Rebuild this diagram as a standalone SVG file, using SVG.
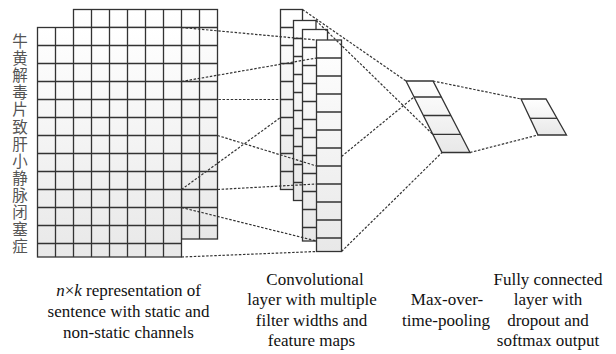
<svg xmlns="http://www.w3.org/2000/svg" width="616" height="354" viewBox="0 0 616 354">
<defs>
<linearGradient id="g" x1="0" y1="0" x2="0" y2="1">
<stop offset="0" stop-color="#ffffff"/>
<stop offset="1" stop-color="#e8e8e8"/>
</linearGradient>
</defs>
<style>
.box{fill:url(#g);stroke:#333;stroke-width:1.3}
.ln{fill:none;stroke:#333;stroke-width:1.3}
.dash{fill:none;stroke:#333;stroke-width:1.2;stroke-dasharray:2.5 1.6}
.lbl{font-size:17px;fill:#111;text-anchor:middle}
.cjk{font-size:15.5px;fill:#555;text-anchor:middle;dominant-baseline:central}
</style>

<g id="sentence-words">
<text class="cjk" font-family="Noto Sans CJK SC, Noto Sans CJK JP, sans-serif"><tspan x="20" y="40">牛</tspan><tspan x="20" y="57.1">黄</tspan><tspan x="20" y="74.2">解</tspan><tspan x="20" y="91.3">毒</tspan><tspan x="20" y="108.4">片</tspan><tspan x="20" y="125.5">致</tspan><tspan x="20" y="142.6">肝</tspan><tspan x="20" y="159.7">小</tspan><tspan x="20" y="176.8">静</tspan><tspan x="20" y="193.9">脉</tspan><tspan x="20" y="211">闭</tspan><tspan x="20" y="228.1">塞</tspan><tspan x="20" y="245.2">症</tspan></text>
</g>

<g id="grid-back">
<rect class="box" x="73.5" y="9.5" width="144" height="229.5"/>
<path class="ln" d="M91.5 9.5V239M109.5 9.5V239M127.5 9.5V239M145.5 9.5V239M163.5 9.5V239M181.5 9.5V239M199.5 9.5V239M73.5 27.5H217.5M73.5 45.5H217.5M73.5 63.5H217.5M73.5 81.5H217.5M73.5 99.5H217.5M73.5 117.5H217.5M73.5 135.5H217.5M73.5 153.5H217.5M73.5 171.5H217.5M73.5 189.5H217.5M73.5 207.5H217.5M73.5 225.5H217.5"/>
</g>

<g id="grid-front">
<rect class="box" x="37.5" y="27.5" width="144" height="229.5"/>
<path class="ln" d="M55.5 27.5V257M73.5 27.5V257M91.5 27.5V257M109.5 27.5V257M127.5 27.5V257M145.5 27.5V257M163.5 27.5V257M37.5 45.5H181.5M37.5 63.5H181.5M37.5 81.5H181.5M37.5 99.5H181.5M37.5 117.5H181.5M37.5 135.5H181.5M37.5 153.5H181.5M37.5 171.5H181.5M37.5 189.5H181.5M37.5 207.5H181.5M37.5 225.5H181.5M37.5 243.5H181.5"/>
</g>

<g id="feature-map-1">
<rect class="box" x="280.5" y="9.5" width="22" height="180"/>
<path class="ln" d="M280.5 27.5H302.5M280.5 45.5H302.5M280.5 63.5H302.5M280.5 81.5H302.5M280.5 99.5H302.5M280.5 117.5H302.5M280.5 135.5H302.5M280.5 153.5H302.5M280.5 171.5H302.5"/>
</g>
<g id="feature-map-2">
<rect class="box" x="293.5" y="20.5" width="22.5" height="180"/>
<path class="ln" d="M293.5 38.5H316M293.5 56.5H316M293.5 74.5H316M293.5 92.5H316M293.5 110.5H316M293.5 128.5H316M293.5 146.5H316M293.5 164.5H316M293.5 182.5H316"/>
</g>
<g id="feature-map-3">
<rect class="box" x="302.5" y="29.5" width="25" height="211.5"/>
<path class="ln" d="M302.5 47.5H327.5M302.5 65.5H327.5M302.5 83.5H327.5M302.5 101.5H327.5M302.5 119.5H327.5M302.5 137.5H327.5M302.5 155.5H327.5M302.5 173.5H327.5M302.5 191.5H327.5M302.5 209.5H327.5M302.5 227.5H327.5"/>
</g>
<g id="feature-map-4">
<rect class="box" x="316.5" y="40" width="25" height="211.5"/>
<path class="ln" d="M316.5 58H341.5M316.5 76H341.5M316.5 94H341.5M316.5 112H341.5M316.5 130H341.5M316.5 148H341.5M316.5 166H341.5M316.5 184H341.5M316.5 202H341.5M316.5 220H341.5M316.5 238H341.5"/>
</g>

<g id="max-pooling">
<polygon class="box" points="406,81 433,81 470,152.5 442,152.5"/>
<path class="ln" d="M414 97H441.3M423.3 115.5H450.9M432.7 134.3H460.6"/>
</g>

<g id="fully-connected">
<polygon class="box" points="521,99 546,99 566.5,135 538,135"/>
<path class="ln" d="M530.1 118.3H557"/>
</g>

<g id="connectors">
<line class="dash" x1="181.5" y1="27.5" x2="316.5" y2="40"/>
<line class="dash" x1="181.5" y1="81.5" x2="316.5" y2="58"/>
<line class="dash" x1="181.5" y1="99.5" x2="280.5" y2="99.5"/>
<line class="dash" x1="217.5" y1="135.5" x2="316.5" y2="166"/>
<line class="dash" x1="181.5" y1="189.5" x2="280.5" y2="117.5"/>
<line class="dash" x1="217.5" y1="189.5" x2="316.5" y2="184"/>
<line class="dash" x1="181.5" y1="207.5" x2="316.5" y2="241"/>
<line class="dash" x1="181.5" y1="257" x2="316.5" y2="251.5"/>
<line class="dash" x1="302.5" y1="9.5" x2="406" y2="81"/>
<line class="dash" x1="316" y1="20.5" x2="432.7" y2="134.3"/>
<line class="dash" x1="341.5" y1="156.5" x2="414" y2="97"/>
<line class="dash" x1="341.5" y1="251.5" x2="442" y2="152.5"/>
<line class="dash" x1="433" y1="81" x2="521" y2="99"/>
<line class="dash" x1="470" y1="152.5" x2="538" y2="135"/>
</g>

<g id="labels" font-family="Liberation Serif, Times New Roman, serif">
<text class="lbl" font-family="Liberation Serif, Times New Roman, serif"><tspan x="128.5" y="295.5"><tspan font-style="italic">n</tspan>×<tspan font-style="italic">k</tspan> representation of</tspan><tspan x="128.5" y="316.5">sentence with static and</tspan><tspan x="128.5" y="337.5">non-static channels</tspan></text>
<text class="lbl" font-family="Liberation Serif, Times New Roman, serif"><tspan x="315" y="284.5">Convolutional</tspan><tspan x="312" y="305">layer with multiple</tspan><tspan x="311.5" y="325.5">filter widths and</tspan><tspan x="311.5" y="346">feature maps</tspan></text>
<text class="lbl" font-family="Liberation Serif, Times New Roman, serif"><tspan x="447" y="305">Max-over-</tspan><tspan x="446" y="325.5">time-pooling</tspan></text>
<text class="lbl" font-family="Liberation Serif, Times New Roman, serif"><tspan x="548" y="284.5">Fully connected</tspan><tspan x="548" y="305">layer with</tspan><tspan x="548" y="325.5">dropout and</tspan><tspan x="548" y="346">softmax output</tspan></text>
</g>
</svg>
